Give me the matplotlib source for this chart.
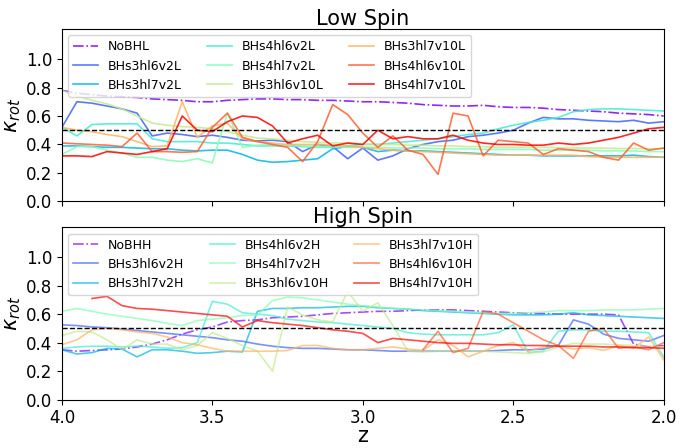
import numpy as np
import matplotlib
matplotlib.use("Agg")
import matplotlib.pyplot as plt

# redshift samples (x axis runs from 4 down to 2)
z = [4.00, 3.95, 3.90, 3.85, 3.80, 3.75, 3.70, 3.65, 3.60, 3.55,
     3.50, 3.45, 3.40, 3.35, 3.30, 3.25, 3.20, 3.15, 3.10, 3.05,
     3.00, 2.95, 2.90, 2.85, 2.80, 2.75, 2.70, 2.65, 2.60, 2.55,
     2.50, 2.45, 2.40, 2.35, 2.30, 2.25, 2.20, 2.15, 2.10, 2.05, 2.00]

nan = np.nan

names_low = ["NoBHL", "BHs3hl6v2L", "BHs3hl7v2L", "BHs4hl6v2L", "BHs4hl7v2L",
             "BHs3hl6v10L", "BHs3hl7v10L", "BHs4hl6v10L", "BHs4hl7v10L"]
names_high = ["NoBHH", "BHs3hl6v2H", "BHs3hl7v2H", "BHs4hl6v2H", "BHs4hl7v2H",
              "BHs3hl6v10H", "BHs3hl7v10H", "BHs4hl6v10H", "BHs4hl7v10H"]

# ---- low spin kappa_rot ----
nobh_low = [0.78, 0.76, 0.75, 0.74, 0.735, 0.73, 0.72, 0.715, 0.71, 0.70,
            0.70, 0.71, 0.715, 0.72, 0.72, 0.715, 0.715, 0.71, 0.71, 0.705,
            0.70, 0.70, 0.695, 0.69, 0.68, 0.675, 0.67, 0.67, 0.675, 0.665,
            0.66, 0.66, 0.655, 0.645, 0.64, 0.635, 0.63, 0.62, 0.615, 0.61, 0.60]
s3l6v2_low = [0.52, 0.70, 0.69, 0.67, 0.65, 0.62, 0.46, 0.48, 0.47, 0.455,
              0.465, 0.45, 0.43, 0.425, 0.43, 0.42, 0.35, 0.40, 0.385, 0.30,
              0.375, 0.29, 0.32, 0.37, 0.40, 0.42, 0.43, 0.455, 0.465, 0.48,
              0.50, 0.55, 0.59, 0.58, 0.58, 0.57, 0.565, 0.56, 0.57, 0.55, 0.56]
s3l7v2_low = [0.39, 0.39, 0.385, 0.38, 0.38, 0.375, 0.37, 0.37, 0.36, 0.355,
              0.36, 0.36, 0.33, 0.29, 0.275, 0.28, 0.29, 0.30, 0.37, 0.385,
              0.38, 0.35, 0.36, 0.355, 0.355, 0.35, 0.345, 0.34, 0.335, 0.33,
              0.325, 0.325, 0.32, 0.32, 0.32, 0.32, 0.32, 0.32, 0.325, 0.315, 0.31]
s4l6v2_low = [0.52, 0.46, 0.54, 0.545, 0.545, 0.545, 0.44, 0.42, 0.42, 0.42,
              0.41, 0.41, 0.40, 0.39, 0.39, 0.39, 0.385, 0.38, 0.38, 0.39,
              0.40, 0.40, 0.41, 0.42, 0.43, 0.44, 0.455, 0.47, 0.48, 0.51,
              0.535, 0.555, 0.57, 0.59, 0.63, 0.645, 0.65, 0.65, 0.645, 0.64, 0.635]
s4l7v2_low = [0.33, 0.385, 0.385, 0.36, 0.34, 0.31, 0.31, 0.29, 0.28, 0.30,
              0.27, 0.62, 0.38, 0.395, 0.40, 0.395, 0.39, 0.385, 0.385, 0.38,
              0.38, 0.38, 0.375, 0.375, 0.375, 0.37, 0.37, 0.37, 0.365, 0.365,
              0.365, 0.365, 0.36, 0.36, 0.36, 0.36, 0.355, 0.355, 0.355, 0.35, 0.35]
s3l6v10_low = [0.78, 0.74, 0.71, 0.685, 0.65, 0.60, 0.55, 0.535, 0.525, 0.52,
               0.51, 0.49, 0.465, 0.445, 0.44, 0.43, 0.42, 0.415, 0.41, 0.41,
               0.405, 0.40, 0.40, 0.395, 0.395, 0.39, 0.39, 0.385, 0.385, 0.38,
               0.38, 0.38, 0.38, 0.378, 0.376, 0.375, 0.374, 0.372, 0.372, 0.37, 0.37]
s3l7v10_low = [0.52, 0.50, 0.49, 0.47, 0.455, 0.42, 0.385, 0.39, 0.70, 0.45,
               0.53, 0.55, 0.44, 0.42, 0.41, 0.40, 0.40, 0.40, 0.395, 0.39,
               0.38, 0.37, 0.36, 0.355, 0.35, 0.345, 0.34, 0.335, 0.33, 0.325,
               0.325, 0.325, 0.325, 0.325, 0.325, 0.315, 0.31, 0.31, 0.31, 0.31, 0.31]
s4l6v10_low = [0.41, 0.405, 0.40, 0.395, 0.385, 0.48, 0.35, 0.35, 0.345, 0.35,
               0.52, 0.62, 0.45, 0.42, 0.40, 0.38, 0.28, 0.42, 0.68, 0.61,
               0.48, 0.38, 0.46, 0.36, 0.33, 0.19, 0.62, 0.60, 0.32, 0.43,
               0.42, 0.41, 0.33, 0.37, 0.36, 0.35, 0.31, 0.29, 0.41, 0.36, 0.375]
s4l7v10_low = [0.32, 0.32, 0.315, 0.35, 0.34, 0.33, 0.35, 0.37, 0.60, 0.50,
               0.49, 0.56, 0.60, 0.59, 0.53, 0.41, 0.44, 0.465, 0.39, 0.41,
               0.40, 0.50, 0.44, 0.455, 0.44, 0.44, 0.465, 0.43, 0.41, 0.40,
               0.40, 0.395, 0.395, 0.41, 0.40, 0.41, 0.43, 0.45, 0.48, 0.51, 0.52]

# ---- high spin kappa_rot ----
nobh_high = [0.35, 0.34, 0.345, 0.35, 0.355, 0.37, 0.39, 0.42, 0.46, 0.49,
             0.51, 0.545, 0.555, 0.56, 0.575, 0.58, 0.585, 0.595, 0.605, 0.61,
             0.615, 0.62, 0.62, 0.625, 0.63, 0.63, 0.63, 0.625, 0.62, 0.615,
             0.61, 0.605, 0.605, 0.60, 0.60, 0.60, 0.60, 0.595, 0.39, 0.37, 0.38]
s3l6v2_high = [0.525, 0.52, 0.51, 0.505, 0.495, 0.485, 0.475, 0.465, 0.455, 0.445,
               0.435, 0.42, 0.41, 0.39, 0.375, 0.365, 0.36, 0.36, 0.355, 0.35,
               0.35, 0.345, 0.34, 0.34, 0.34, 0.34, 0.34, 0.34, 0.34, 0.345,
               0.35, 0.35, 0.355, 0.38, 0.56, 0.53, 0.46, 0.43, 0.42, 0.41, 0.45]
s3l7v2_high = [0.35, 0.32, 0.33, 0.36, 0.355, 0.30, 0.35, 0.35, 0.34, 0.325,
               0.33, 0.34, 0.335, 0.62, 0.64, 0.64, 0.645, 0.645, 0.65, 0.655,
               0.655, 0.645, 0.64, 0.635, 0.625, 0.62, 0.615, 0.61, 0.605, 0.60,
               0.595, 0.595, 0.595, 0.60, 0.61, 0.595, 0.59, 0.585, 0.58, 0.575, 0.57]
s4l6v2_high = [0.36, 0.37, 0.375, 0.375, 0.37, 0.375, 0.37, 0.36, 0.365, 0.40,
               0.69, 0.67, 0.61, 0.60, 0.59, 0.565, 0.555, 0.545, 0.54, 0.53,
               0.52, 0.51, 0.50, 0.47, 0.46, 0.455, 0.455, 0.455, 0.455, 0.47,
               0.525, 0.33, 0.34, 0.48, 0.49, 0.49, 0.48, 0.48, 0.475, 0.47, 0.30]
s4l7v2_high = [0.62, 0.64, 0.62, 0.60, 0.585, 0.57, 0.555, 0.535, 0.52, 0.555,
               0.565, 0.575, 0.59, 0.595, 0.695, 0.72, 0.715, 0.70, 0.685, 0.67,
               0.66, 0.65, 0.64, 0.635, 0.63, 0.625, 0.62, 0.615, 0.61, 0.605,
               0.605, 0.61, 0.615, 0.625, 0.625, 0.625, 0.63, 0.63, 0.63, 0.635, 0.64]
s3l6v10_high = [0.45, 0.48, 0.475, 0.42, 0.35, 0.42, 0.39, 0.39, 0.35, 0.38,
                0.47, 0.43, 0.38, 0.34, 0.20, 0.65, 0.595, 0.56, 0.545, 0.76,
                0.62, 0.68, 0.52, 0.34, 0.335, 0.34, 0.34, 0.34, 0.34, 0.335,
                0.33, 0.325, 0.335, 0.37, 0.395, 0.39, 0.39, 0.385, 0.38, 0.375, 0.37]
s3l7v10_high = [0.385, 0.42, 0.49, 0.50, 0.49, 0.475, 0.465, 0.44, 0.40, 0.385,
                0.36, 0.34, 0.34, 0.34, 0.34, 0.345, 0.38, 0.38, 0.36, 0.35,
                0.35, 0.36, 0.37, 0.355, 0.345, 0.42, 0.38, 0.30, 0.34, 0.38,
                0.40, 0.34, 0.37, 0.375, 0.355, 0.365, 0.345, 0.38, 0.36, 0.44, 0.28]
s4l6v10_high = [nan, nan, nan, nan, nan, nan, nan, nan, nan, nan,
                nan, nan, nan, nan, nan, nan, nan, nan, nan, nan,
                nan, nan, nan, nan, 0.35, 0.48, 0.33, 0.36, 0.62, 0.60,
                0.54, 0.48, 0.42, 0.38, 0.29, 0.48, 0.50, 0.36, 0.37, 0.35, 0.40]
s4l7v10_high = [nan, nan, 0.71, 0.725, 0.66, 0.64, 0.635, 0.625, 0.615, 0.605,
                0.595, 0.585, 0.51, 0.555, 0.54, 0.53, 0.52, 0.505, 0.49, 0.48,
                0.465, 0.40, 0.43, 0.42, 0.41, 0.40, 0.395, 0.395, 0.39, 0.385,
                0.385, 0.38, 0.38, 0.375, 0.375, 0.375, 0.37, 0.37, 0.365, 0.365, 0.36]

low_runs = [nobh_low, s3l6v2_low, s3l7v2_low, s4l6v2_low, s4l7v2_low,
            s3l6v10_low, s3l7v10_low, s4l6v10_low, s4l7v10_low]
high_runs = [nobh_high, s3l6v2_high, s3l7v2_high, s4l6v2_high, s4l7v2_high,
             s3l6v10_high, s3l7v10_high, s4l6v10_high, s4l7v10_high]

colors = plt.cm.rainbow(np.linspace(0, 1, 9))


def draw_panel(ax, runs, names, title, alpha):
    for i, (vals, name) in enumerate(zip(runs, names)):
        ls = "-." if i == 0 else "-"
        ax.plot(z, vals, ls, color=colors[i], lw=1.2, alpha=alpha, label=name)
    ax.axhline(0.5, color="k", ls="--", lw=1)
    ax.set_title(title, fontsize=15, pad=3)
    ax.set_ylabel(r"$\kappa_{rot}$", fontsize=15, labelpad=2)
    ax.set_ylim(0, 1.21)
    ax.set_yticks([0.0, 0.2, 0.4, 0.6, 0.8, 1.0])
    ax.tick_params(labelsize=12)
    ax.legend(loc="upper left", ncol=3, fontsize=9)


fig, (ax1, ax2) = plt.subplots(2, 1, sharex=True, figsize=(6.8, 4.48), dpi=100)
fig.subplots_adjust(left=0.091, right=0.976, top=0.935, bottom=0.108, hspace=0.15)

draw_panel(ax1, low_runs, names_low, "Low Spin", 0.85)
draw_panel(ax2, high_runs, names_high, "High Spin", 0.7)

ax2.set_xlim(4, 2)
ax2.set_xticks([4.0, 3.5, 3.0, 2.5, 2.0])
ax2.set_xlabel("z", fontsize=15, labelpad=-1)

fig.savefig("out.png", dpi=100)
